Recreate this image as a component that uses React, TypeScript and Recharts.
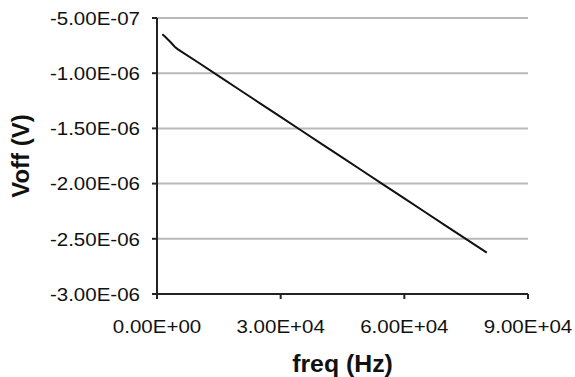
import React from 'react';
import { LineChart, Line, XAxis, YAxis, CartesianGrid, Label } from 'recharts';

const freqHz = [1300, 2100, 3200, 4300, 5000, 10000, 15000, 20000, 25000, 30000, 35000, 40000, 45000, 50000, 55000, 60000, 65000, 70000, 75000, 80000];
const voffV = [-6.48e-7, -6.75e-7, -7.15e-7, -7.6e-7, -7.82e-7, -9.03e-7, -1.026e-6, -1.15e-6, -1.273e-6, -1.396e-6, -1.519e-6, -1.642e-6, -1.765e-6, -1.888e-6, -2.011e-6, -2.134e-6, -2.257e-6, -2.38e-6, -2.503e-6, -2.626e-6];

const xTicks = [0, 30000, 60000, 90000];
const xTickLabels = ['0.00E+00', '3.00E+04', '6.00E+04', '9.00E+04'];
const yTicks = [-3e-6, -2.5e-6, -2e-6, -1.5e-6, -1e-6, -5e-7];
const yTickLabels = ['-3.00E-06', '-2.50E-06', '-2.00E-06', '-1.50E-06', '-1.00E-06', '-5.00E-07'];

const data = freqHz.map((f, i) => ({ f, v: voffV[i] }));

const FONT = '"Liberation Sans", Arial, sans-serif';
const INK = '#111111';

const XTick = (props: any) => {
  const { x, y, index } = props;
  return (
    <text
      transform={`translate(${x},${y}) scale(1.08,1)`}
      x={0}
      y={0}
      dy={34.5}
      textAnchor="middle"
      fontFamily={FONT}
      fontSize={19}
      fill={INK}
    >
      {xTickLabels[index]}
    </text>
  );
};

const YTick = (props: any) => {
  const { x, y, index } = props;
  return (
    <text
      transform={`translate(${x},${y}) scale(1.08,1)`}
      x={0}
      y={0}
      dy={6.8}
      textAnchor="end"
      fontFamily={FONT}
      fontSize={19}
      fill={INK}
    >
      {yTickLabels[index]}
    </text>
  );
};

const XTitle = (props: any) => {
  const vb = props.viewBox;
  return (
    <text
      transform={`translate(${vb.x + vb.width / 2},372) scale(1.08,1)`}
      x={0}
      y={0}
      textAnchor="middle"
      fontFamily={FONT}
      fontSize={23}
      fontWeight="bold"
      fill={INK}
    >
      freq (Hz)
    </text>
  );
};

const YTitle = (props: any) => {
  const vb = props.viewBox;
  const cy = vb.y + vb.height / 2;
  return (
    <text
      transform={`translate(29,${cy}) rotate(-90)`}
      x={0}
      y={0}
      textAnchor="middle"
      fontFamily={FONT}
      fontSize={24}
      fontWeight="bold"
      fill={INK}
    >
      Voff (V)
    </text>
  );
};

export default function App() {
  return (
    <div style={{ position: 'absolute', left: 0, top: 0, width: 575, height: 377, background: '#fff' }}>
      <LineChart width={575} height={377} data={data} margin={{ top: 18, right: 47, bottom: 0, left: 0 }}>
        <CartesianGrid vertical={false} stroke="#b8b8b8" strokeWidth={2} />
        <XAxis
          dataKey="f"
          type="number"
          domain={[0, 90000]}
          ticks={xTicks}
          interval={0}
          height={83}
          tickSize={5}
          tickMargin={0}
          axisLine={{ stroke: '#222', strokeWidth: 2 }}
          tickLine={{ stroke: '#222', strokeWidth: 2 }}
          tick={<XTick />}
          allowDataOverflow
        >
          <Label content={<XTitle />} />
        </XAxis>
        <YAxis
          type="number"
          domain={[-3e-6, -5e-7]}
          ticks={yTicks}
          interval={0}
          width={157}
          tickSize={5}
          tickMargin={12}
          axisLine={{ stroke: '#222', strokeWidth: 2 }}
          tickLine={{ stroke: '#222', strokeWidth: 2 }}
          tick={<YTick />}
          allowDataOverflow
        >
          <Label content={<YTitle />} />
        </YAxis>
        <Line
          type="linear"
          dataKey="v"
          stroke="#111"
          strokeWidth={2}
          dot={false}
          isAnimationActive={false}
        />
      </LineChart>
    </div>
  );
}
